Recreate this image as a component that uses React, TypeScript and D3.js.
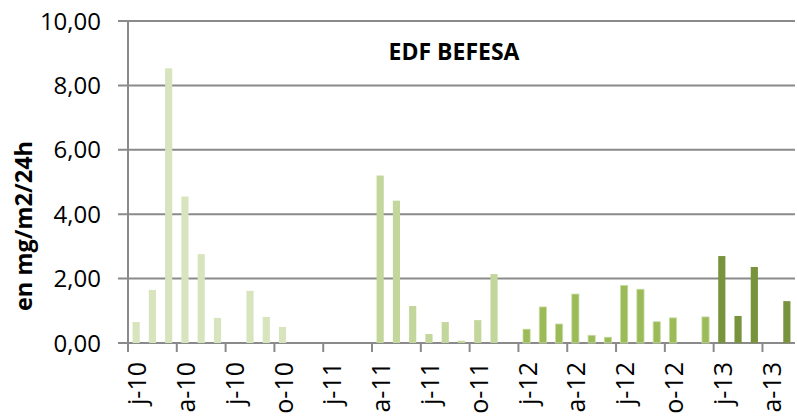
import React, { useEffect, useRef } from 'react';
import * as d3 from 'd3';

// monthly values, Jan 2010 .. May 2013 (null = no measurement)
const months2010 = [0.65, 1.65, 8.53, 4.55, 2.76, 0.78, null, 1.62, 0.81, 0.5, null, null];
const months2011 = [null, null, null, 5.2, 4.42, 1.15, 0.28, 0.65, 0.07, 0.71, 2.14, null];
const months2012 = [0.43, 1.12, 0.59, 1.52, 0.24, 0.18, 1.79, 1.67, 0.66, 0.78, null, 0.81];
const months2013 = [2.7, 0.84, 2.36, null, 1.3];

const monthLetters = ['j', 'f', 'm', 'a', 'm', 'j', 'j', 'a', 's', 'o', 'n', 'd'];
const years = ['10', '11', '12', '13'];
const yTicks = [0, 2, 4, 6, 8, 10];

const seriesColors = ['#d7e4bd', '#c3d69b', '#9bbb59', '#77933c'];

const App = () => {
  const ref = useRef<SVGSVGElement>(null);

  useEffect(() => {
    const svg = d3.select(ref.current);
    svg.selectAll('*').remove();

    const font = '"Open Sans", sans-serif';
    const left = 128, right = 795, top = 21, bottom = 343;

    // flatten the yearly arrays into one monthly list
    const allYears = [months2010, months2011, months2012, months2013];
    const rows: { key: string; label: string; value: number | null; year: number }[] = [];
    allYears.forEach((arr, yi) => {
      arr.forEach((v, mi) => {
        rows.push({ key: `${mi}-${years[yi]}`, label: `${monthLetters[mi]}-${years[yi]}`, value: v, year: yi });
      });
    });

    const x = d3.scaleBand()
      .domain(rows.map(d => d.key))
      .range([left, right])
      .paddingInner(0.56)
      .paddingOuter(0.28);

    const y = d3.scaleLinear().domain([0, 10]).range([bottom, top]);
    const step = x.step();

    // gridlines + y ticks
    svg.append('g')
      .selectAll('line')
      .data(yTicks)
      .join('line')
      .attr('x1', left - 10)
      .attr('x2', right)
      .attr('y1', d => y(d))
      .attr('y2', d => y(d))
      .attr('stroke', '#8a8a8a')
      .attr('stroke-width', 2);

    svg.append('g')
      .selectAll('text')
      .data(yTicks)
      .join('text')
      .attr('x', 101)
      .attr('y', d => y(d))
      .attr('dy', '0.36em')
      .attr('text-anchor', 'end')
      .style('font-family', font)
      .style('font-size', '24px')
      .attr('fill', '#000')
      .text(d => d3.format('.2f')(d).replace('.', ','));

    // bars
    svg.append('g')
      .selectAll('rect')
      .data(rows.filter(d => d.value !== null))
      .join('rect')
      .attr('x', d => x(d.key)!)
      .attr('width', x.bandwidth())
      .attr('y', d => y(d.value as number))
      .attr('height', d => y(0) - y(d.value as number))
      .attr('fill', d => seriesColors[d.year])
      .attr('stroke', d => (d.year === 2 ? '#c9dca4' : 'none'))
      .attr('stroke-width', 0.8);

    // axes lines
    svg.append('line')
      .attr('x1', left).attr('x2', left)
      .attr('y1', top).attr('y2', bottom + 9)
      .attr('stroke', '#8a8a8a').attr('stroke-width', 2);

    const tickIdx = d3.range(3, rows.length, 3);
    svg.append('g')
      .selectAll('line')
      .data(tickIdx)
      .join('line')
      .attr('x1', i => left + step * i)
      .attr('x2', i => left + step * i)
      .attr('y1', bottom)
      .attr('y2', bottom + 9)
      .attr('stroke', '#8a8a8a')
      .attr('stroke-width', 2);

    // x labels every 3 months, rotated
    svg.append('g')
      .selectAll('text')
      .data(rows.filter((d, i) => i % 3 === 0))
      .join('text')
      .attr('transform', d => `translate(${x(d.key)! + x.bandwidth() / 2 + 1},362) rotate(-90)`)
      .attr('dy', '0.36em')
      .attr('text-anchor', 'end')
      .style('font-family', font)
      .style('font-size', '25px')
      .attr('fill', '#000')
      .text(d => d.label);

    // title
    svg.append('text')
      .attr('x', 454)
      .attr('y', 60)
      .attr('text-anchor', 'middle')
      .style('font-family', font)
      .style('font-size', '23px')
      .style('font-weight', 'bold')
      .attr('fill', '#000')
      .text('EDF BEFESA');

    // y axis title
    svg.append('text')
      .attr('transform', 'translate(24,226) rotate(-90)')
      .attr('dy', '0.36em')
      .attr('text-anchor', 'middle')
      .style('font-family', font)
      .style('font-size', '23.5px')
      .style('font-weight', 'bold')
      .attr('fill', '#000')
      .text('en mg/m2/24h');
  }, []);

  return (
    <svg
      ref={ref}
      width={797}
      height={417}
      style={{ position: 'absolute', left: 0, top: 0, background: '#fff' }}
    />
  );
};

export default App;
